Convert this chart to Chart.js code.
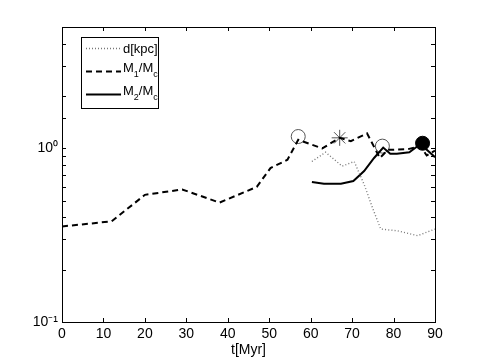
<!DOCTYPE html>
<html>
<head>
<meta charset="utf-8">
<script src="https://cdn.jsdelivr.net/npm/chart.js@4.4.0/dist/chart.umd.min.js"></script>
<style>
  html, body { margin: 0; padding: 0; background: #fff; }
  #wrap { width: 480px; height: 360px; }
</style>
</head>
<body>
<div id="wrap"><canvas id="chart" width="480" height="360"></canvas></div>
<script>
// values
const tM1 = [0, 12, 20, 29, 38, 47, 50.3, 54.4, 57, 62.8, 67, 69.7, 73.6, 76.7, 78.6, 83.5, 86.5, 88, 90];
const m1 = [0.355, 0.38, 0.54, 0.58, 0.487, 0.60, 0.77, 0.86, 1.12, 1.0, 1.15, 1.10, 1.22, 0.88, 0.98, 0.99, 1.03, 0.91, 0.97];

const tM2 = [60.3, 63.2, 67.3, 70.3, 72.9, 75.3, 77.5, 79.2, 80.8, 83.8, 86.5, 90];
const m2 = [0.64, 0.625, 0.625, 0.648, 0.74, 0.88, 1.01, 0.93, 0.93, 0.95, 1.06, 0.89];

const tD = [60.3, 63.6, 67.6, 70.5, 72.9, 74.9, 76.9, 81, 85.8, 90];
const dKpc = [0.84, 0.95, 0.79, 0.84, 0.62, 0.456, 0.343, 0.335, 0.314, 0.343];

const openCircles = [[57, 1.17], [77.3, 1.03]];
const starPoint = [[67, 1.15]];
const filledCircle = [[87, 1.07]];

const xTicks = [0, 10, 20, 30, 40, 50, 60, 70, 80, 90];

const pts = (xs, ys) => xs.map((x, i) => ({ x: x, y: ys[i] }));
const pairPts = arr => arr.map(p => ({ x: p[0], y: p[1] }));

const FONT = '"Liberation Sans", Arial, Helvetica, sans-serif';

// box, inward ticks on all four sides, and the legend
const frame = {
  id: 'frame',
  afterDraw(chart) {
    const ctx = chart.ctx;
    const a = chart.chartArea;
    const xs = chart.scales.x, ys = chart.scales.y;
    ctx.save();
    ctx.strokeStyle = '#000';
    ctx.lineWidth = 1;
    ctx.setLineDash([]);
    ctx.strokeRect(a.left + 0.5, a.top + 0.5, a.right - a.left, a.bottom - a.top);
    ctx.beginPath();
    xTicks.forEach(v => {
      const px = Math.round(xs.getPixelForValue(v)) + 0.5;
      ctx.moveTo(px, a.bottom); ctx.lineTo(px, a.bottom - 4);
      ctx.moveTo(px, a.top); ctx.lineTo(px, a.top + 4);
    });
    ys.ticks.forEach(t => {
      const py = Math.round(ys.getPixelForValue(t.value)) + 0.5;
      ctx.moveTo(a.left, py); ctx.lineTo(a.left + 4, py);
      ctx.moveTo(a.right, py); ctx.lineTo(a.right - 4, py);
    });
    ctx.stroke();

    // legend
    const lx = 81, ly = 37, lw = 77, lh = 71;
    ctx.fillStyle = '#fff';
    ctx.fillRect(lx, ly, lw, lh);
    ctx.strokeRect(lx + 0.5, ly + 0.5, lw, lh);
    const rows = [
      { y: 48, color: '#777', width: 1.3, dash: [1, 2], main: 'd[kpc]' },
      { y: 71, color: '#000', width: 2, dash: [6, 4], main: 'M', sub1: '1', mid: '/M', sub2: 'c' },
      { y: 94, color: '#000', width: 2, dash: [], main: 'M', sub1: '2', mid: '/M', sub2: 'c' }
    ];
    rows.forEach(r => {
      ctx.beginPath();
      ctx.strokeStyle = r.color;
      ctx.lineWidth = r.width;
      ctx.setLineDash(r.dash);
      ctx.moveTo(86, r.y + 0.5);
      ctx.lineTo(121, r.y + 0.5);
      ctx.stroke();
      ctx.setLineDash([]);
      ctx.fillStyle = '#000';
      ctx.textBaseline = 'alphabetic';
      ctx.textAlign = 'left';
      let x = 123;
      const base = r.sub1 ? r.y + 1 : r.y + 5;
      ctx.font = '13px ' + FONT;
      ctx.fillText(r.main, x, base);
      x += ctx.measureText(r.main).width;
      if (r.sub1) {
        ctx.font = '9px ' + FONT;
        ctx.fillText(r.sub1, x, base + 5);
        x += ctx.measureText(r.sub1).width;
        ctx.font = '13px ' + FONT;
        ctx.fillText(r.mid, x, base);
        x += ctx.measureText(r.mid).width;
        ctx.font = '9px ' + FONT;
        ctx.fillText(r.sub2, x, base + 5);
      }
    });
    ctx.restore();
  }
};

new Chart(document.getElementById('chart'), {
  type: 'line',
  data: {
    datasets: [
      { label: 'd[kpc]', data: pts(tD, dKpc), borderColor: '#777', borderWidth: 1.4,
        borderDash: [1, 2.2], pointRadius: 0, tension: 0 },
      { label: 'M1/Mc', data: pts(tM1, m1), borderColor: '#000', borderWidth: 2,
        borderDash: [6, 4], pointRadius: 0, tension: 0 },
      { label: 'M2/Mc', data: pts(tM2, m2), borderColor: '#000', borderWidth: 2,
        pointRadius: 0, tension: 0 },
      { label: 'open', data: pairPts(openCircles), showLine: false, pointStyle: 'circle',
        pointRadius: 7, pointBorderColor: '#555', pointBackgroundColor: 'rgba(0,0,0,0)', pointBorderWidth: 1 },
      { label: 'star', data: pairPts(starPoint), showLine: false, pointStyle: 'star',
        pointRadius: 8, pointBorderColor: '#555', pointBorderWidth: 1 },
      { label: 'filled', data: pairPts(filledCircle), showLine: false, pointStyle: 'circle',
        pointRadius: 7, pointBorderColor: '#000', pointBackgroundColor: '#000', pointBorderWidth: 1 }
    ]
  },
  options: {
    responsive: false,
    animation: false,
    layout: { padding: { top: 27, right: 45, left: 0, bottom: 0 } },
    plugins: { legend: { display: false }, tooltip: { enabled: false } },
    scales: {
      x: {
        type: 'linear', min: 0, max: 90,
        afterBuildTicks: s => { s.ticks = xTicks.map(v => ({ value: v })); },
        afterFit: s => { s.height = 38; },
        grid: { display: false, drawTicks: false },
        border: { display: false },
        ticks: { color: '#000', font: { family: FONT, size: 14 }, padding: 4, maxRotation: 0 },
        title: { display: true, text: 't[Myr]', color: '#000', font: { family: FONT, size: 14 }, padding: { top: 0, bottom: 1 } }
      },
      y: {
        type: 'logarithmic', min: 0.1, max: 5,
        afterFit: s => { s.width = 62; },
        grid: { display: false, drawTicks: false },
        border: { display: false },
        ticks: {
          color: '#000', font: { family: FONT, size: 14 }, padding: 4, autoSkip: false,
          callback: v => (Math.abs(v - 1) < 1e-9 ? '10\u2070' : Math.abs(v - 0.1) < 1e-9 ? '10\u207B\u00B9' : '')
        }
      }
    }
  },
  plugins: [frame]
});
</script>
</body>
</html>
